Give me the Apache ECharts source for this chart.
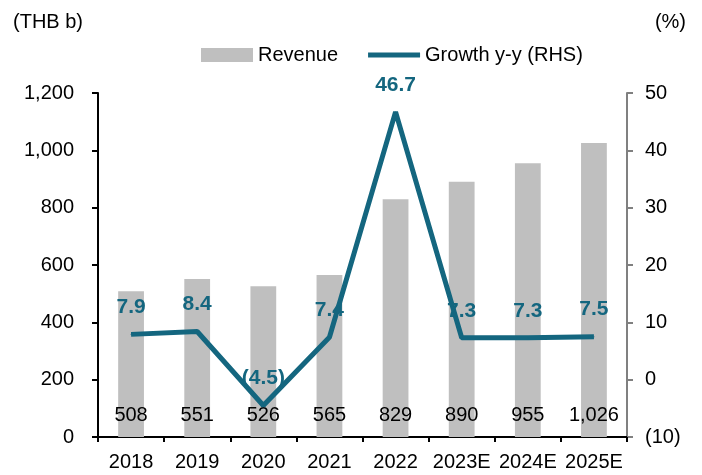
<!DOCTYPE html>
<html>
<head>
<meta charset="utf-8">
<script src="https://cdn.jsdelivr.net/npm/echarts@6/dist/echarts.min.js"></script>
<style>
html,body{margin:0;padding:0;background:#fff;}
#main{width:702px;height:475px;}
</style>
</head>
<body>
<div id="main"></div>
<script>
var years = ['2018','2019','2020','2021','2022','2023E','2024E','2025E'];
var revenue = [508, 551, 526, 565, 829, 890, 955, 1026];
var growth = [7.9, 8.4, -4.5, 7.4, 46.7, 7.3, 7.3, 7.5];

var leftTicks = {min:0, max:1200, interval:200};
var rightTicks = {min:-10, max:50, interval:10};

function fmtThousands(v){
    return String(v).replace(/\B(?=(\d{3})+(?!\d))/g, ',');
}
function fmtPct(v){
    return v < 0 ? '(' + Math.abs(v) + ')' : String(v);
}

var chart = echarts.init(document.getElementById('main'));
var font = 'Liberation Sans, Arial, sans-serif';
var teal = '#14667f';

var option = {
    animation:false,
    textStyle:{fontFamily:font},
    title:[
        {text:'(THB b)', left:8, top:7, textStyle:{fontSize:20, fontWeight:'normal', color:'#000', fontFamily:font}},
        {text:'(%)', right:11, top:7, textStyle:{fontSize:20, fontWeight:'normal', color:'#000', fontFamily:font}}
    ],
    legend:{
        top:40,
        left:196,
        itemGap:30,
        itemWidth:52,
        itemHeight:14,
        textStyle:{fontSize:20, color:'#000', fontFamily:font},
        data:[
            {name:'Revenue', icon:'rect'},
            {name:'Growth y-y (RHS)', icon:'path://M0,0h52v5h-52z'}
        ]
    },
    grid:{left:98, right:75, top:93, bottom:38, containLabel:false},
    xAxis:{
        type:'category',
        data:years,
        axisLine:{lineStyle:{color:'#000', width:2}},
        axisTick:{show:true, interval:0, alignWithLabel:false, length:5, lineStyle:{color:'#000', width:2}},
        axisLabel:{fontSize:20, interval:0, hideOverlap:false, color:'#000', margin:15, fontFamily:font},
        splitLine:{show:false}
    },
    yAxis:[
        {
            type:'value',
            min:leftTicks.min, max:leftTicks.max, interval:leftTicks.interval,
            axisLine:{show:true, lineStyle:{color:'#000', width:2}},
            axisTick:{show:true, length:6, lineStyle:{color:'#000', width:2}},
            axisLabel:{fontSize:20, color:'#000', margin:24, formatter:fmtThousands, fontFamily:font},
            splitLine:{show:false}
        },
        {
            type:'value',
            min:rightTicks.min, max:rightTicks.max, interval:rightTicks.interval,
            axisLine:{show:true, lineStyle:{color:'#808080', width:2}},
            axisTick:{show:true, length:6, lineStyle:{color:'#808080', width:2}},
            axisLabel:{fontSize:20, color:'#000', margin:18, formatter:fmtPct, fontFamily:font},
            splitLine:{show:false}
        }
    ],
    series:[
        {
            name:'Revenue',
            type:'bar',
            yAxisIndex:0,
            data:revenue,
            barWidth:'39%',
            itemStyle:{color:'#bfbfbf'},
            label:{
                show:true,
                position:'insideBottom',
                distance:12,
                fontSize:20,
                color:'#000',
                fontFamily:font,
                formatter:function(p){ return fmtThousands(p.value); }
            },
            z:1
        },
        {
            name:'Growth y-y (RHS)',
            type:'line',
            yAxisIndex:1,
            data:growth,
            symbol:'circle',
            symbolSize:1,
            showSymbol:true,
            lineStyle:{color:teal, width:5},
            itemStyle:{color:teal},
            label:{
                show:true,
                position:'top',
                distance:16,
                fontSize:21,
                fontWeight:'bold',
                color:teal,
                fontFamily:font,
                formatter:function(p){ return fmtPct(p.value); }
            },
            labelLayout:{hideOverlap:false},
            z:3
        }
    ]
};
chart.setOption(option);
</script>
</body>
</html>
